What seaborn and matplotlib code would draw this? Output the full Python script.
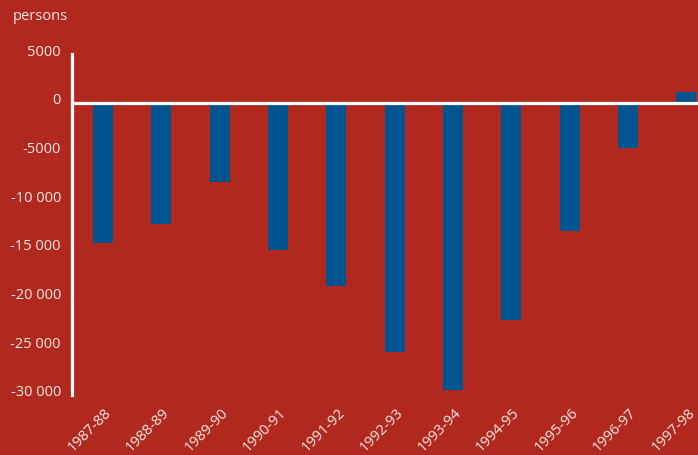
import matplotlib
matplotlib.use("Agg")
import matplotlib.pyplot as plt
import matplotlib.transforms as mtransforms
import seaborn as sns
import pandas as pd

years = ["1987-88", "1988-89", "1989-90", "1990-91", "1991-92", "1992-93",
         "1993-94", "1994-95", "1995-96", "1996-97", "1997-98"]
values = [-14400, -12400, -8100, -15100, -18800, -25600,
          -29500, -22300, -13200, -4600, 1100]
ytick_values = [5000, 0, -5000, -10000, -15000, -20000, -25000, -30000]
ytick_labels = ["5000", "0", "-5000", "-10 000", "-15 000", "-20 000", "-25 000", "-30 000"]

BG = "#B1291E"
BLUE = "#00548F"
TXT = "#F6E8E4"

sns.set_theme(style="white")
plt.rcParams["font.family"] = ["Open Sans", "DejaVu Sans"]

fig = plt.figure(figsize=(6.98, 4.56), dpi=100, facecolor=BG)
ax = fig.add_axes([72 / 698, 60 / 456, 1 - 72 / 698, 341 / 456])
ax.set_facecolor(BG)

df = pd.DataFrame({"year": years, "value": values})
sns.barplot(data=df, x="year", y="value", color=BLUE, width=0.34,
            saturation=1, ax=ax, zorder=2, linewidth=0, edgecolor=BLUE)

ax.set_xlim(-0.53, 10.2)
ax.set_ylim(-30000, 5000)
ax.axhline(0, color="white", lw=2.3, zorder=3)

for s in ["top", "right", "bottom"]:
    ax.spines[s].set_visible(False)
ax.spines["left"].set_color("white")
ax.spines["left"].set_linewidth(2.3)
ax.spines["left"].set_zorder(4)

ax.set_yticks(ytick_values)
ax.set_yticklabels(ytick_labels)
ax.tick_params(axis="y", length=0, pad=8, labelsize=10.5, labelcolor=TXT)
ax.tick_params(axis="x", length=0, pad=7, labelsize=10.5, labelcolor=TXT)
off = mtransforms.ScaledTranslation(0, 5 / 100, fig.dpi_scale_trans)
for lab in ax.get_yticklabels():
    lab.set_transform(lab.get_transform() + off)
for lab in ax.get_xticklabels():
    lab.set_rotation(45)
    lab.set_ha("right")
    lab.set_va("top")
    lab.set_rotation_mode("anchor")
    lab.set_transform(lab.get_transform() + mtransforms.ScaledTranslation(1 / 100, 0, fig.dpi_scale_trans))

ax.set_xlabel("")
ax.set_ylabel("")
fig.text(13 / 698, 1 - 16 / 456, "persons", color=TXT, fontsize=10.5, va="center", ha="left")

fig.savefig("out.png", dpi=100, facecolor=BG)
